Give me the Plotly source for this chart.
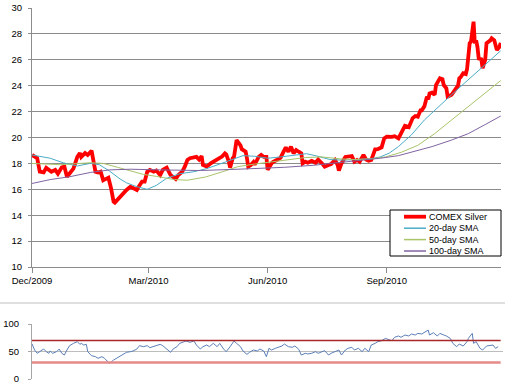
import pandas as pd
import plotly.graph_objects as go

W, H = 515, 388
START = pd.Timestamp("2009-12-01")

# ---------------- data (days since 2009-12-01) ----------------
price_days = [0, 4, 6, 9, 11, 15, 18, 20, 23, 25, 27, 29, 32, 35, 37, 38, 41, 43, 45, 46,
              49, 51, 53, 55, 56, 59, 61, 63, 64, 67, 69, 71, 73, 76, 78, 81, 83, 85, 87, 89,
              91, 94, 96, 99, 101, 104, 107, 109, 111, 113, 116, 118, 120, 122, 125, 127, 129, 131, 132, 135,
              138, 140, 143, 145, 147, 149, 150, 152, 153, 155, 156, 158, 159, 161, 162, 165, 166, 167, 169, 171,
              172, 175, 177, 179, 181, 182, 185, 186, 189, 192, 194, 196, 198, 200, 202, 204, 206, 208, 209, 211,
              213, 216, 219, 221, 224, 226, 229, 231, 234, 236, 237, 239, 242, 244, 247, 249, 251, 253, 256, 258,
              260, 262, 265, 267, 270, 272, 274, 278, 280, 283, 285, 287, 288, 291, 292, 294, 296, 298, 300, 301,
              303, 305, 306, 307, 309, 311, 312, 314, 315, 317, 318, 320, 321, 324, 325, 327, 329, 330, 331, 333,
              335, 336, 337, 338, 339, 341, 342, 343, 344, 345, 347, 348, 350, 351, 354, 355, 357, 359, 361, 362]
price_vals = [18.65, 18.4, 17.36, 17.3, 17.65, 17.35, 17.5, 17.2, 17.7, 17.75, 16.97, 17.2, 17.6, 18.5, 18.8, 18.5, 18.8, 18.65, 18.95, 18.98,
              17.36, 17.3, 17.36, 16.7, 16.75, 16.9, 16.1, 15.05, 14.97, 15.3, 15.56, 15.7, 15.95, 16.2, 16.1, 15.95, 16.3, 16.6, 16.6, 17.36,
              17.5, 17.36, 17.45, 17.1, 17.5, 17.67, 17.1, 16.97, 16.8, 17.1, 17.36, 17.75, 18.26, 18.4, 18.44, 18.5, 18.3, 18.57, 17.88, 17.75,
              18.0, 18.13, 18.26, 18.4, 18.55, 18.78, 18.7, 18.13, 17.67, 18.4, 18.5, 19.8, 19.7, 19.4, 19.1, 18.9, 18.4, 17.75, 17.88, 18.1,
              17.9, 18.5, 18.65, 18.5, 18.5, 17.5, 18.0, 18.1, 18.26, 18.44, 18.85, 19.24, 18.9, 19.3, 18.78, 19.03, 18.9, 18.78, 18.0, 18.13,
              18.05, 18.2, 18.05, 18.3, 18.0, 17.75, 17.88, 17.95, 18.26, 17.88, 17.44, 18.0, 18.5, 18.5, 18.57, 18.13, 18.26, 18.13, 18.65, 18.3,
              18.2, 18.26, 19.09, 19.1, 19.24, 19.93, 20.06, 20.05, 20.1, 19.93, 20.3, 20.7, 20.9, 20.8, 21.1, 21.5, 21.66, 21.6, 22.1, 22.1,
              22.4, 23.15, 22.95, 23.4, 23.46, 23.3, 24.05, 24.5, 24.57, 24.5, 24.05, 23.8, 23.15, 23.3, 23.46, 23.67, 24.0, 24.57, 24.65, 24.96,
              24.9, 25.3, 26.75, 27.27, 27.4, 28.94, 27.27, 27.5, 27.0, 26.1, 26.04, 25.35, 26.0, 27.27, 27.5, 27.66, 27.5, 26.75, 27.0, 27.3]

sma20_days = [0, 14, 24, 35, 45, 52, 60, 68, 73, 81, 89, 96, 104, 114, 125, 135, 145, 155, 163, 172,
              182, 192, 202, 212, 220, 230, 240, 251, 261, 269, 276, 283, 293, 303, 314, 324, 334, 345, 355, 362]
sma20_vals = [18.65, 18.4, 18.05, 17.8, 18.0, 17.9, 17.4, 16.8, 16.5, 16.2, 16.0, 16.3, 16.85, 17.2, 17.36, 17.6, 17.95, 18.3, 18.6, 18.55,
              18.4, 18.5, 18.65, 18.75, 18.57, 18.3, 18.25, 18.3, 18.35, 18.5, 18.8, 19.3, 20.2, 21.35, 22.4, 23.3, 24.2, 25.2, 26.1, 26.7]

sma50_days = [0, 22, 45, 55, 66, 76, 86, 96, 110, 120, 134, 147, 159, 172, 185, 198, 211, 224, 238, 249,
              262, 273, 285, 298, 311, 324, 337, 350, 362]
sma50_vals = [18.0, 17.9, 18.05, 18.0, 17.7, 17.4, 17.15, 17.0, 16.75, 16.7, 16.95, 17.35, 17.75, 17.95, 18.1, 18.3, 18.45, 18.5, 18.35, 18.3,
              18.35, 18.5, 18.85, 19.4, 20.3, 21.35, 22.4, 23.5, 24.4]

sma100_days = [0, 14, 29, 45, 60, 76, 99, 130, 159, 174, 195, 217, 243, 269, 283, 298, 309, 324, 337, 350, 362]
sma100_vals = [16.45, 16.75, 16.97, 17.3, 17.5, 17.55, 17.5, 17.45, 17.55, 17.6, 17.7, 17.85, 18.1, 18.4, 18.6, 19.0, 19.3, 19.8, 20.3, 21.0, 21.66]

rsi_days = [0, 2, 4, 6, 9, 11, 13, 14, 16, 19, 21, 23, 25, 27, 29, 32, 35, 37, 38, 40,
            42, 43, 46, 49, 51, 54, 56, 58, 60, 63, 65, 68, 71, 73, 76, 78, 81, 83, 86, 89,
            91, 94, 96, 99, 101, 104, 107, 109, 112, 114, 117, 119, 122, 125, 127, 130, 132, 135, 137, 140,
            143, 145, 148, 150, 153, 156, 158, 161, 163, 166, 168, 171, 174, 176, 179, 181, 183, 185, 188, 190,
            193, 195, 198, 201, 203, 206, 208, 211, 213, 216, 219, 221, 224, 226, 229, 231, 234, 237, 239, 242,
            244, 247, 249, 252, 255, 257, 260, 262, 265, 267, 270, 273, 275, 278, 280, 283, 285, 288, 291, 293,
            296, 298, 301, 303, 306, 307, 310, 313, 315, 318, 320, 323, 325, 328, 330, 333, 336, 337, 340, 341,
            343, 346, 348, 351, 354, 356, 358, 360]
rsi_vals = [64, 52.7, 46.7, 49.7, 54.5, 49.7, 46.7, 50.9, 46.7, 49.7, 54.5, 46.7, 43.6, 52.7, 60.6, 64.8, 67.9, 63, 64.8, 61.8,
            63, 49.7, 42.4, 40.6, 37.6, 40.6, 37.6, 32.7, 28.5, 34.5, 37.6, 42.4, 46.7, 48.5, 49.7, 50.9, 54.5, 60.6, 58.8, 60.6,
            57, 58.8, 60.6, 63, 60.6, 54.5, 48.5, 54.5, 58.8, 64.8, 67.9, 69.1, 66.7, 69.1, 61.8, 54.5, 58.8, 61.8, 58.8, 64.8,
            58.8, 64.8, 54.5, 49.7, 58.8, 69.1, 64.8, 58.8, 50.9, 44.8, 48.5, 52.7, 50.9, 54.5, 50.9, 40.6, 55.8, 52.7, 55.8, 57.6,
            60, 63.6, 58.8, 57.6, 60, 54, 43.6, 46.7, 45.5, 46.7, 49.7, 46.7, 49.7, 51.5, 43.6, 46.7, 49.7, 52.7, 43.6, 52.7,
            55.8, 57.6, 52.7, 55.8, 49.7, 55.8, 49.7, 61.8, 64.8, 67.9, 69.7, 73.9, 72, 69.7, 75.8, 78.2, 75.8, 80, 78.2, 81.8,
            80, 83, 81.8, 84.2, 89, 80, 84.2, 78.2, 83, 80, 78.2, 73.9, 64.8, 58.8, 63.6, 60, 67.9, 73.9, 83, 64.8,
            67.9, 55.8, 52.7, 60, 61.8, 61.8, 55.8, 58.8]

rsi_upper = 70
rsi_lower = 30

series_names = ["COMEX Silver", "20-day SMA", "50-day SMA", "100-day SMA"]
price_ticks = [10, 12, 14, 16, 18, 20, 22, 24, 26, 28, 30]
rsi_ticks = [0, 50, 100]
date_ticks = ["2009-12-01", "2010-03-01", "2010-06-01", "2010-09-01"]

# ---------------- styling ----------------
FONT = "Liberation Sans, Arial, sans-serif"
C_PRICE = "#FF0000"
C_20 = "#4BACC6"
C_50 = "#A9C46A"
C_100 = "#8064A2"
C_RSI = "#5B7FB8"
C_UP = "#A8282A"
C_LO = "#E58A87"
series_colors = [C_PRICE, C_20, C_50, C_100]
series_widths = [3.8, 1, 1, 1]


def to_dates(days):
    return START + pd.to_timedelta(days, unit="D")


def px(x):
    return x / W


def py(y):
    return 1 - y / H


fig = go.Figure()
all_series = [(price_days, price_vals), (sma20_days, sma20_vals),
              (sma50_days, sma50_vals), (sma100_days, sma100_vals)]
for (d, v), name, col, wd in zip(all_series, series_names, series_colors, series_widths):
    fig.add_trace(go.Scatter(x=to_dates(d), y=v, mode="lines", name=name,
                             line=dict(color=col, width=wd), showlegend=False,
                             xaxis="x", yaxis="y"))

fig.add_trace(go.Scatter(x=to_dates(rsi_days), y=rsi_vals, mode="lines", name="RSI",
                         line=dict(color=C_RSI, width=1), showlegend=False,
                         xaxis="x2", yaxis="y2"))

x_end_days = 362.2
x_end2_days = x_end_days * (503 - 32) / (501 - 32)

fig.update_layout(
    width=W, height=H,
    margin=dict(l=0, r=0, t=0, b=0, autoexpand=False),
    paper_bgcolor="white", plot_bgcolor="white",
    font=dict(family=FONT, size=9.5, color="#000000"),
    xaxis=dict(domain=[px(32), px(501)], type="date", automargin=False,
               range=[START, START + pd.Timedelta(days=x_end_days)],
               tickvals=date_ticks, tickformat="%b/%Y",
               showgrid=False, showline=True, linecolor="#8c8c8c", linewidth=1,
               ticks="outside", ticklen=5, tickcolor="#8c8c8c",
               anchor="y", zeroline=False),
    yaxis=dict(domain=[py(267), py(8)], range=[10, 30], tickvals=price_ticks, automargin=False,
               showgrid=True, gridcolor="#8c8c8c", gridwidth=1,
               showline=True, linecolor="#8c8c8c", linewidth=1,
               ticks="outside", ticklen=3, tickcolor="#8c8c8c",
               ticklabelstandoff=4, zeroline=False, anchor="x"),
    xaxis2=dict(domain=[px(32), px(503)], type="date", automargin=False,
                range=[START, START + pd.Timedelta(days=x_end2_days)],
                showgrid=False, showline=False, showticklabels=False,
                anchor="y2", zeroline=False),
    yaxis2=dict(domain=[py(379), py(324)], range=[0, 100], tickvals=rsi_ticks, automargin=False,
                showgrid=True, gridcolor="#bdbdbd", gridwidth=1,
                showline=True, linecolor="#a6a6a6", linewidth=1,
                ticks="outside", ticklen=3, tickcolor="#a6a6a6",
                ticklabelstandoff=7, zeroline=False, anchor="x2"),
)

shapes = []
# RSI reference lines drawn in data coordinates
shapes.append(dict(type="line", xref="x2 domain", yref="y2", x0=0, x1=0.995,
                   y0=rsi_upper, y1=rsi_upper, line=dict(color=C_UP, width=1.5)))
shapes.append(dict(type="line", xref="x2 domain", yref="y2", x0=0, x1=0.995,
                   y0=rsi_lower, y1=rsi_lower, line=dict(color=C_LO, width=2.5)))
# border of the lower chart
shapes.append(dict(type="line", xref="paper", yref="paper", x0=0, x1=px(505),
                   y0=py(303), y1=py(303), line=dict(color="#bfbfbf", width=1)))

# manual legend box
lx0, lx1, ly0, ly1 = 390, 501, 210, 256
shapes.append(dict(type="rect", xref="paper", yref="paper",
                   x0=px(lx0), x1=px(lx1), y0=py(ly1), y1=py(ly0),
                   fillcolor="white", line=dict(color="#000000", width=1), layer="above"))
row_y = [216.7, 228.2, 239.6, 251.0]
annotations = []
for name, col, wd, ry in zip(series_names, series_colors, series_widths, row_y):
    shapes.append(dict(type="line", xref="paper", yref="paper",
                       x0=px(404), x1=px(426), y0=py(ry), y1=py(ry),
                       line=dict(color=col, width=wd if wd > 1 else 1.5), layer="above"))
    annotations.append(dict(xref="paper", yref="paper", x=px(427), y=py(ry),
                            text=name, showarrow=False, xanchor="left", yanchor="middle",
                            font=dict(size=9, family=FONT, color="#000000")))

fig.update_layout(shapes=shapes, annotations=annotations)

fig.write_html("out.html",
               config={"displayModeBar": False},
               post_script="document.body.style.margin='0px';document.body.style.padding='0px';")
